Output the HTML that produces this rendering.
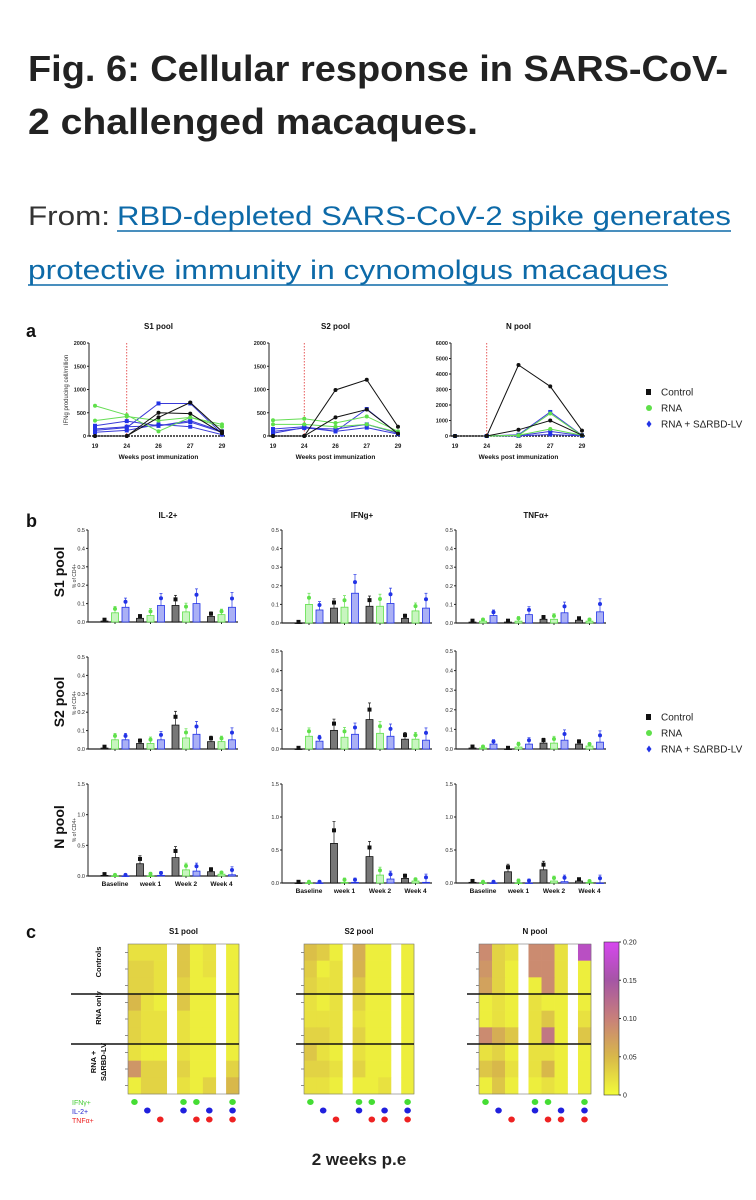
<!DOCTYPE html>
<html><head><meta charset="utf-8"><style>
html,body{margin:0;padding:0;background:#fff;width:756px;height:1200px;overflow:hidden}
svg{display:block;font-family:"Liberation Sans",sans-serif}
</style></head><body>
<svg id="fig" width="756" height="1200" viewBox="0 0 756 1200" xmlns="http://www.w3.org/2000/svg">
<text x="28" y="81" font-size="36" font-weight="bold" fill="#222" textLength="700" lengthAdjust="spacingAndGlyphs">Fig. 6: Cellular response in SARS-CoV-</text>
<text x="28" y="134" font-size="36" font-weight="bold" fill="#222" textLength="450" lengthAdjust="spacingAndGlyphs">2 challenged macaques.</text>
<text x="28" y="225" font-size="27" fill="#333" textLength="82" lengthAdjust="spacingAndGlyphs">From:</text>
<a href="#">
<text x="117" y="225" font-size="27" fill="#0d6aa8" textLength="614" lengthAdjust="spacingAndGlyphs">RBD-depleted SARS-CoV-2 spike generates</text>
<text x="28" y="279" font-size="27" fill="#0d6aa8" textLength="640" lengthAdjust="spacingAndGlyphs">protective immunity in cynomolgus macaques</text>
</a>
<line x1="117" y1="231" x2="731" y2="231" stroke="#0d6aa8" stroke-width="1.5"/>
<line x1="28" y1="285" x2="668" y2="285" stroke="#0d6aa8" stroke-width="1.5"/>
<g id="root"></g>
</svg>
<script>
// ---------- Panel a data ----------
const weeks = ['19','24','26','27','29'];
const aPools = ['S1 pool','S2 pool','N pool'];
const aMax = [2000, 2000, 6000];
const aTicks = [[0,500,1000,1500,2000],[0,500,1000,1500,2000],[0,1000,2000,3000,4000,5000,6000]];
const s1Control = [[0,0,500,480,60],[0,0,400,720,100]];
const s1Rna = [[650,450,100,400,250],[330,420,330,400,200]];
const s1Lv = [[220,320,220,330,100],[120,180,700,700,50],[80,120,250,200,30],[150,200,220,300,80]];
const s2Control = [[0,0,990,1210,200],[0,0,400,570,50]];
const s2Rna = [[340,370,280,420,100],[250,250,200,250,80]];
const s2Lv = [[150,200,100,580,50],[100,170,150,250,60],[60,180,100,180,40]];
const nControl = [[0,0,4580,3200,350],[0,0,400,1000,50]];
const nRna = [[0,0,50,450,50],[0,0,30,1450,30]];
const nLv = [[0,0,80,1550,50],[0,0,20,300,20],[0,0,10,100,10]];

// ---------- Panel b data ----------
const timepoints = ['Baseline','week 1','Week 2','Week 4'];
const cytokines = ['IL-2+','IFNg+','TNFα+'];
const bPools = ['S1 pool','S2 pool','N pool'];
const bMax = [0.5,0.5,1.5];
const bTicksSmall = ['0.0','0.1','0.2','0.3','0.4','0.5'];
const bTicksLarge = ['0.0','0.5','1.0','1.5'];
const s1Il2Control=[0.005,0.02,0.09,0.03], s1Il2Rna=[0.05,0.035,0.055,0.04], s1Il2Lv=[0.08,0.09,0.1,0.08];
const s1IfnControl=[0.0,0.08,0.09,0.025], s1IfnRna=[0.1,0.085,0.09,0.065], s1IfnLv=[0.07,0.16,0.105,0.08];
const s1TnfControl=[0.005,0.005,0.02,0.015], s1TnfRna=[0.01,0.01,0.02,0.01], s1TnfLv=[0.04,0.045,0.055,0.06];
const s2Il2Control=[0.005,0.03,0.13,0.04], s2Il2Rna=[0.05,0.03,0.06,0.04], s2Il2Lv=[0.05,0.05,0.08,0.05];
const s2IfnControl=[0.0,0.095,0.15,0.05], s2IfnRna=[0.065,0.06,0.08,0.05], s2IfnLv=[0.04,0.075,0.065,0.045];
const s2TnfControl=[0.005,0.0,0.03,0.025], s2TnfRna=[0.005,0.01,0.03,0.015], s2TnfLv=[0.025,0.025,0.045,0.035];
const nIl2Control=[0.01,0.2,0.3,0.07], nIl2Rna=[0,0,0.1,0.03], nIl2Lv=[0,0.01,0.08,0.02];
const nIfnControl=[0,0.6,0.4,0.07], nIfnRna=[0,0.01,0.12,0.03], nIfnLv=[0,0.01,0.06,0.01];
const nTnfControl=[0.01,0.17,0.2,0.03], nTnfRna=[0,0,0.03,0.01], nTnfLv=[0,0,0.02,0];
const bErr = [[0.01,0.01,0.01,0.01],[0.01,0.02,0.02,0.01],[0.01,0.02,0.03,0.04]];

// ---------- Panel c data ----------
const hmPools = ['S1 pool','S2 pool','N pool'];
const hmGroups = ['Controls','RNA only','RNA + SΔRBD-LV'];
const cbTicks = ['0','0.05','0.10','0.15','0.20'];
const hmS1 = [[0.02,0.02,0.02,0.04,0.01,0.02,0.01],[0.03,0.03,0.02,0.04,0.01,0.02,0.01],[0.03,0.03,0.02,0.03,0.01,0.01,0.01],
 [0.05,0.02,0.01,0.04,0.01,0.01,0.01],[0.03,0.02,0.02,0.02,0.01,0.01,0.01],[0.03,0.02,0.02,0.02,0.01,0.01,0.01],
 [0.02,0.01,0.01,0.02,0.01,0.01,0.01],[0.08,0.03,0.03,0.03,0.01,0.01,0.03],[0.01,0.03,0.03,0.02,0.01,0.03,0.05]];
const hmS2 = [[0.045,0.035,0.01,0.06,0.01,0.01,0.01],[0.035,0.01,0.02,0.055,0.01,0.01,0.01],[0.03,0.02,0.02,0.04,0.01,0.01,0.01],
 [0.02,0.01,0.02,0.03,0.01,0.01,0.01],[0.02,0.02,0.02,0.02,0.01,0.01,0.01],[0.03,0.03,0.02,0.03,0.01,0.01,0.01],
 [0.04,0.02,0.01,0.02,0.01,0.01,0.01],[0.03,0.03,0.02,0.03,0.01,0.01,0.01],[0.02,0.02,0.01,0.01,0.01,0.02,0.01]];
const hmN = [[0.09,0.03,0.02,0.09,0.09,0.02,0.17],[0.08,0.03,0.01,0.09,0.09,0.02,0.01],[0.07,0.03,0.01,0.01,0.09,0.02,0.01],
 [0.01,0.02,0.01,0.02,0.01,0.01,0.01],[0.01,0.02,0.01,0.02,0.04,0.01,0.02],[0.09,0.06,0.04,0.02,0.11,0.01,0.04],
 [0.02,0.03,0.01,0.02,0.02,0.01,0.01],[0.04,0.05,0.02,0.02,0.05,0.01,0.01],[0.01,0.04,0.01,0.01,0.02,0.01,0.01]];
const dotIfn = [1,0,0,1,1,0,1], dotIl2 = [0,1,0,1,0,1,1], dotTnf = [0,0,1,0,1,1,1];

const NS='http://www.w3.org/2000/svg';
const root=document.getElementById('root');
function mk(tag,attrs,parent,txt){const e=document.createElementNS(NS,tag);for(const k in attrs)e.setAttribute(k,attrs[k]);if(txt!==undefined)e.textContent=txt;(parent||root).appendChild(e);return e;}
function label(x,y,t,size,opts){const e=mk('text',Object.assign({x:x,y:y,'font-size':size,fill:'#111'},opts||{}),root,t);return e;}

const BLACK='#111', GREEN='#5fe04a', BLUE='#2233e6';

// ================= Panel a =================
let pa=label(26,337,'a',18,{'font-weight':'bold'});


const aAxisX=[89,269,451], aX0=[95,273,455], aX1=[222,398,582], aTop=343, aZero=436;
const aData=[[s1Control,s1Rna,s1Lv],[s2Control,s2Rna,s2Lv],[nControl,nRna,nLv]];
for(let p=0;p<3;p++){
  const g=mk('g',{});
  
  
  const xs=i=>aX0[p]+i*(aX1[p]-aX0[p])/(weeks.length-1);
  const ys=v=>aZero-v/aMax[p]*(aZero-aTop);
  const t=mk('text',{x:(aX0[p]+aX1[p])/2,y:329,'font-size':8,'font-weight':'bold','text-anchor':'middle',fill:'#111'},g,aPools[p]);
  
  
  const ya=mk('line',{x1:aAxisX[p],y1:aTop,x2:aAxisX[p],y2:aZero,stroke:'#222','stroke-width':1},g);
  
  
  const xa=mk('line',{x1:aAxisX[p],y1:aZero,x2:aX1[p]+3,y2:aZero,stroke:'#222','stroke-width':1.5,'stroke-dasharray':'2,1'},g);
  
  
  aTicks[p].forEach(v=>{
    mk('line',{x1:aAxisX[p]-2,y1:ys(v),x2:aAxisX[p],y2:ys(v),stroke:'#222'},g);
    const tl=mk('text',{x:aAxisX[p]-3,y:ys(v)+2,'font-size':5.5,'text-anchor':'end',fill:'#222','font-weight':'bold'},g,String(v));
    
    
  });
  weeks.forEach((w,i)=>{
    const tl=mk('text',{x:xs(i),y:448,'font-size':6,'text-anchor':'middle',fill:'#222','font-weight':'bold'},g,w);
    
    
  });
  const xt=mk('text',{x:(aX0[p]+aX1[p])/2,y:459,'font-size':6.5,'text-anchor':'middle',fill:'#111','font-weight':'bold'},g,'Weeks post immunization');
  
  
  const rl=mk('line',{x1:xs(1),y1:aTop,x2:xs(1),y2:aZero,stroke:'#e03030','stroke-width':0.8,'stroke-dasharray':'1.5,1.5'},g);
  
  
  const cols=['#111','#66dd55','#3a3ad8'], mcol=[BLACK,GREEN,BLUE];
  [2,1,0].forEach(s=>{
    aData[p][s].forEach(series=>{
      const pts=series.map((v,i)=>xs(i)+','+ys(v)).join(' ');
      const pl=mk('polyline',{points:pts,fill:'none',stroke:cols[s],'stroke-width':1},g);
      
      
      series.forEach((v,i)=>{
        const m=s<2?mk('circle',{cx:xs(i),cy:ys(v),r:2,fill:mcol[s]},g):mk('rect',{x:xs(i)-2,y:ys(v)-2,width:4,height:4,fill:mcol[s]},g);
        
        
      });
    });
  });
}
let yl=label(0,0,'IFNg producing cell/million',6,{transform:'translate(68,390) rotate(-90)','text-anchor':'middle',fill:'#333'});



function legend(y0,prefix){
  const names=['Control','RNA','RNA + SΔRBD-LV'];
  names.forEach((n,i)=>{
    const y=y0+i*16;
    const m=i===0?mk('rect',{x:646,y:y-3,width:5,height:6,fill:BLACK}):(i===1?mk('circle',{cx:649,cy:y,r:3,fill:GREEN}):mk('path',{d:`M649 ${y-3.5} L651.5 ${y} L649 ${y+3.5} L646.5 ${y} Z`,fill:BLUE}));
    
    
    const t=label(661,y+3.5,n,10,{fill:'#222'});
    
    
  });
}
legend(392,'panel-a');

// ================= Panel b =================
let pb=label(26,527,'b',18,{'font-weight':'bold'});


const bAxisX=[88,282,456], bW=150;
const bTop=[[530,530,530],[657,651,651],[784,784,784]];
const bZero=[[622,623,623],[749,749,749],[876,883,883]];
const bData=[
 [[s1Il2Control,s1Il2Rna,s1Il2Lv],[s1IfnControl,s1IfnRna,s1IfnLv],[s1TnfControl,s1TnfRna,s1TnfLv]],
 [[s2Il2Control,s2Il2Rna,s2Il2Lv],[s2IfnControl,s2IfnRna,s2IfnLv],[s2TnfControl,s2TnfRna,s2TnfLv]],
 [[nIl2Control,nIl2Rna,nIl2Lv],[nIfnControl,nIfnRna,nIfnLv],[nTnfControl,nTnfRna,nTnfLv]]];
const barFill=['#777','#c8f5c0','#aab0f5'], barStroke=[BLACK,GREEN,BLUE];
cytokines.forEach((c,ci)=>{
  const t=label(bAxisX[ci]+80,518,c,8,{'font-weight':'bold','text-anchor':'middle'});
  
  
});
bPools.forEach((pn,r)=>{
  const cy=[572,702,827][r];
  const t=label(0,0,pn,14,{'font-weight':'bold','text-anchor':'middle',transform:`translate(64,${cy}) rotate(-90)`});
  
  
  for(let ci=0;ci<3;ci++){
    const g=mk('g',{});
    
    
    const ax=bAxisX[ci], top=bTop[r][ci], zero=bZero[r][ci];
    const ys=v=>zero-v/bMax[r]*(zero-top);
    const gx=i=>ax+27+i*35.5;
    const ticks=r===2?bTicksLarge:bTicksSmall;
    mk('line',{x1:ax,y1:top,x2:ax,y2:zero,stroke:'#222'},g);
    mk('line',{x1:ax,y1:zero,x2:ax+bW,y2:zero,stroke:'#222','stroke-width':1.2},g);
    ticks.forEach(tv=>{
      const v=parseFloat(tv);
      mk('line',{x1:ax-2,y1:ys(v),x2:ax,y2:ys(v),stroke:'#222'},g);
      const tl=mk('text',{x:ax-3,y:ys(v)+2,'font-size':5.5,'text-anchor':'end',fill:'#222'},g,tv);
      
      
    });
    if(ci===0){
      const yt=mk('text',{'font-size':5,'text-anchor':'middle',fill:'#333',transform:`translate(76,${(top+zero)/2}) rotate(-90)`},g,'% of CD4+');
      
      
    }
    timepoints.forEach((tp,i)=>{
      mk('line',{x1:gx(i),y1:zero,x2:gx(i),y2:zero+2,stroke:'#222'},g);
      if(r===2){
        const tl=mk('text',{x:gx(i),y:zero+10,'font-size':6.5,'text-anchor':'middle',fill:'#111','font-weight':'bold'},g,tp);
        
        
      }
      for(let s=0;s<3;s++){
        const v=bData[r][ci][s][i], bx=gx(i)+(s-1)*10.5;
        const h=zero-ys(v);
        const b=mk('rect',{x:bx-3.5,y:ys(v),width:7,height:Math.max(h,0.5),fill:barFill[s],stroke:barStroke[s],'stroke-width':0.8},g);
        
        
        const e=v*0.5+bErr[s][i]*(bMax[r]/0.5);
        mk('line',{x1:bx,y1:ys(v),x2:bx,y2:ys(v+e),stroke:barStroke[s],'stroke-width':0.7},g);
        mk('line',{x1:bx-1.5,y1:ys(v+e),x2:bx+1.5,y2:ys(v+e),stroke:barStroke[s],'stroke-width':0.7},g);
        const pt=s===0?mk('rect',{x:bx-2,y:ys(v+e*0.6)-2,width:4,height:4,fill:BLACK},g):mk('circle',{cx:bx,cy:ys(v+e*0.6),r:2,fill:barStroke[s]},g);
        
        
      }
    });
  }
});
legend(717,'panel-b');

// ================= Panel c =================
let pc=label(26,938,'c',18,{'font-weight':'bold'});


const hmX=[[128,239],[304,414],[479,591]], hmTop=944, hmBot=1094;
const hmData=[hmS1,hmS2,hmN];
const stops=[[0,[242,252,58]],[0.05,[216,184,74]],[0.1,[200,128,122]],[0.15,[165,85,165]],[0.2,[215,70,240]]];
function cmap(v){v=Math.max(0,Math.min(0.2,v));for(let i=1;i<stops.length;i++){if(v<=stops[i][0]){const a=stops[i-1],b=stops[i],t=(v-a[0])/(b[0]-a[0]);return 'rgb('+a[1].map((c,k)=>Math.round(c+(b[1][k]-c)*t)).join(',')+')';}}return 'rgb(215,70,240)';}
const colUnits=[1,1,1,0.8,1,1,1,0.8,1], dataSlot=[0,1,2,4,5,6,8];
hmPools.forEach((pn,h)=>{
  const g=mk('g',{});
  
  
  const [x0,x1]=hmX[h], unit=(x1-x0)/colUnits.reduce((a,b)=>a+b,0);
  const slotX=k=>x0+colUnits.slice(0,k).reduce((a,b)=>a+b,0)*unit;
  const rh=(hmBot-hmTop)/9;
  const t=mk('text',{x:(x0+x1)/2,y:934,'font-size':8,'font-weight':'bold','text-anchor':'middle',fill:'#111'},g,pn);
  
  
  hmData[h].forEach((row,ri)=>{
    row.forEach((v,ci)=>{
      const k=dataSlot[ci];
      const c=mk('rect',{x:slotX(k),y:hmTop+ri*rh,width:unit+0.3,height:rh+0.3,fill:cmap(v)},g);
      
      
    });
    mk('line',{x1:x0-3,y1:hmTop+(ri+0.5)*rh,x2:x0,y2:hmTop+(ri+0.5)*rh,stroke:'#444','stroke-width':0.6},g);
  });
  mk('rect',{x:x0,y:hmTop,width:x1-x0,height:hmBot-hmTop,fill:'none',stroke:'#777','stroke-width':0.6},g);
  const lx=[71,296,467][h];
  [3,6].forEach(ri=>{
    const sl=mk('line',{x1:lx,y1:hmTop+ri*rh,x2:x1,y2:hmTop+ri*rh,stroke:'#111','stroke-width':1.5},g);
    
    
  });
  const dotRows=[[dotIfn,'#44dd33',1102],[dotIl2,'#2020dd',1110.5],[dotTnf,'#ee2222',1119.5]];
  dotRows.forEach(([arr,col,y])=>{
    arr.forEach((on,ci)=>{
      if(!on)return;
      const d=mk('ellipse',{cx:slotX(dataSlot[ci])+unit/2,cy:y,rx:3.3,ry:3,fill:col},g);
      
      
    });
  });
});
[['Controls',101,962],['RNA only',101,1008]].forEach(([t,x,y])=>{
  const e=label(0,0,t,7.5,{'font-weight':'bold','text-anchor':'middle',transform:`translate(${x},${y}) rotate(-90)`});
  
  
});
let g3a=label(0,0,'RNA +',7.5,{'font-weight':'bold','text-anchor':'middle',transform:'translate(96,1062) rotate(-90)'});


let g3b=label(0,0,'SΔRBD-LV',7.5,{'font-weight':'bold','text-anchor':'middle',transform:'translate(106,1062) rotate(-90)'});


[['IFNγ+','#44cc33',1105],['IL-2+','#2020cc',1114],['TNFα+','#ee2222',1123]].forEach(([t,c,y])=>{
  const e=label(72,y,t,7,{fill:c});
  
  
});
const cbX=604, cbW=15, cbTop=942, cbBot=1095;
const grad=mk('linearGradient',{id:'cbg',x1:0,y1:1,x2:0,y2:0},mk('defs',{}));
stops.forEach(([v,c])=>mk('stop',{offset:v/0.2,'stop-color':'rgb('+c.join(',')+')'},grad));
let cb=mk('rect',{x:cbX,y:cbTop,width:cbW,height:cbBot-cbTop,fill:'url(#cbg)',stroke:'#333','stroke-width':0.6});


cbTicks.forEach(tv=>{
  const v=parseFloat(tv), y=cbBot-v/0.2*(cbBot-cbTop);
  mk('line',{x1:cbX+cbW,y1:y,x2:cbX+cbW+2,y2:y,stroke:'#333'});
  const t=label(cbX+cbW+4,y+2.5,tv,7,{fill:'#222'});
  
  
});
let wk=label(359,1165,'2 weeks p.e',17,{'font-weight':'bold','text-anchor':'middle',fill:'#222'});


</script>
</body></html>
